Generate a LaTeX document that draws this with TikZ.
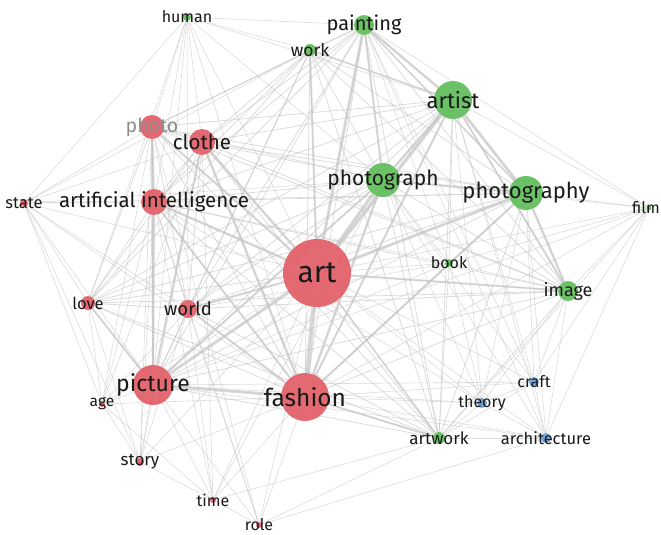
\documentclass[tikz,border=0pt]{standalone}
\usepackage{fontspec}
\setmainfont{Fira Sans}
\definecolor{kwred}{RGB}{226,98,106}
\definecolor{kwgreen}{RGB}{100,190,94}
\definecolor{kwblue}{RGB}{104,156,214}
\definecolor{linkgray}{RGB}{196,196,196}
\definecolor{lbltext}{RGB}{25,25,25}
\definecolor{lblfaint}{RGB}{140,140,140}
\pgfdeclarelayer{bg}
\pgfsetlayers{bg,main}

\begin{document}
\begin{tikzpicture}[x=1pt,y=-1pt]
		\tikzset{kw/.style = {shape=circle,draw=none,inner sep=0pt,minimum size=#1}}
		\tikzset{kwr/.style = {kw=#1,fill=kwred,fill opacity=0.95}}
		\tikzset{kwg/.style = {kw=#1,fill=kwgreen,fill opacity=0.95}}
		\tikzset{kwb/.style = {kw=#1,fill=kwblue,fill opacity=0.95}}
		\tikzset{lbl/.style = {inner sep=0pt,text=lbltext,font=\fontsize{#1}{#1}\selectfont}}
		\tikzset{link/.style = {draw=linkgray,line width=#1,opacity=0.6}}
		\useasboundingbox (0,0) rectangle (661,535);
		% cluster 1 (red)
		\node[kwr=68, label={[lbl=30]center:art}] (art) at (317,273) {};
		\node[kwr=48, label={[lbl=24.5]center:fashion}] (fashion) at (305,397) {};
		\node[kwr=40, label={[lbl=23]center:picture}] (picture) at (153,385) {};
		\node[kwr=26, label={[lbl=20.5]center:artificial intelligence}] (ai) at (154,202) {};
		\node[kwr=26, label={[lbl=20.5]center:clothe}] (clothe) at (202,142) {};
		\node[kwr=24, label={[lbl=19.5,text=lblfaint]center:photo}] (photo) at (152,127) {};
		\node[kwr=18, label={[lbl=18.5]center:world}] (world) at (188,309) {};
		\node[kwr=14, label={[lbl=16.5]center:love}] (love) at (88,303) {};
		\node[kwr=8, label={[lbl=16.5]center:state}] (state) at (24,203) {};
		\node[kwr=6, label={[lbl=15.5]center:age}] (age) at (102,404) {};
		\node[kwr=8, label={[lbl=17]center:story}] (story) at (140,462) {};
		\node[kwr=6, label={[lbl=16]center:time}] (time) at (213,500) {};
		\node[kwr=6, label={[lbl=16]center:role}] (role) at (259,525) {};
		% cluster 2 (green)
		\node[kwg=38, label={[lbl=22]center:artist}] (artist) at (453,100) {};
		\node[kwg=34, label={[lbl=21]center:photograph}] (phgraph) at (383,180) {};
		\node[kwg=34, label={[lbl=22]center:photography}] (phgraphy) at (526,193) {};
		\node[kwg=20, label={[lbl=20]center:painting}] (paint) at (364,25) {};
		\node[kwg=12, label={[lbl=17.5]center:work}] (work) at (310,50) {};
		\node[kwg=20, label={[lbl=18]center:image}] (image) at (568,291) {};
		\node[kwg=12, label={[lbl=17]center:artwork}] (artwork) at (439,438) {};
		\node[kwg=8, label={[lbl=16]center:human}] (human) at (187,17) {};
		\node[kwg=8, label={[lbl=16]center:book}] (book) at (449,263) {};
		\node[kwg=5] (film) at (649,208) {};
		\node[lbl=16, anchor=east] (filmlbl) at (660,208) {film};
		% cluster 3 (blue)
		\node[kwb=10, label={[lbl=16]center:craft}] (craft) at (534,382) {};
		\node[kwb=10, label={[lbl=16]center:theory}] (theory) at (482,403) {};
		\node[kwb=10, label={[lbl=16.5]center:architecture}] (arch) at (546,438) {};
		
		%links
		\begin{pgfonlayer}{bg}
		\foreach \a [count=\i] in {art,fashion,picture,artist,phgraph,phgraphy,paint,ai,clothe,photo,world,image,work,love,artwork}{
			\foreach \b [count=\j] in {art,fashion,picture,artist,phgraph,phgraphy,paint,ai,clothe,photo,world,image,work,love,artwork}{
				\ifnum\j>\i \draw[link=0.8] (\a) -- (\b); \fi
			}
		}
		\foreach \a/\b in {human/work,human/paint,human/photo,human/clothe,human/ai,human/state,human/art,human/world,human/picture,human/fashion,human/phgraph,human/artist,human/love,
			state/photo,state/clothe,state/ai,state/art,state/love,state/picture,state/age,state/story,state/world,state/fashion,state/work,state/phgraph,state/phgraphy,
			film/artist,film/phgraphy,film/image,film/art,film/phgraph,film/book,film/fashion,film/artwork,film/arch,film/craft,film/paint,film/picture,
			book/art,book/fashion,book/phgraph,book/phgraphy,book/artist,book/picture,book/image,book/artwork,book/paint,book/ai,book/theory,book/world,
			age/picture,age/love,age/art,age/fashion,age/story,age/ai,age/clothe,age/photo,age/world,age/time,
			story/picture,story/fashion,story/art,story/ai,story/clothe,story/love,story/time,story/world,story/photo,
			time/picture,time/fashion,time/art,time/ai,time/clothe,time/world,time/role,time/artwork,time/phgraph,
			role/picture,role/fashion,role/art,role/ai,role/artwork,role/photo,role/world,role/arch,
			craft/image,craft/theory,craft/art,craft/fashion,craft/phgraphy,craft/artist,craft/picture,craft/arch,craft/artwork,craft/phgraph,craft/paint,
			theory/art,theory/fashion,theory/artwork,theory/image,theory/phgraph,theory/phgraphy,theory/picture,theory/arch,theory/artist,theory/ai,
			arch/image,arch/artwork,arch/fashion,arch/art,arch/phgraphy,arch/artist,arch/picture,arch/phgraph,arch/paint}
			\draw[link=0.6] (\a) -- (\b);
		\foreach \a/\b/\w in {art/fashion/5,art/picture/3,art/artist/3.5,art/phgraph/3.5,art/phgraphy/3,artist/phgraphy/3,artist/phgraph/2.5,
			paint/artist/2.5,paint/art/3,paint/phgraph/2,work/art/2,photo/art/2,clothe/fashion/2.5,clothe/art/2.5,ai/art/2.5,
			picture/fashion/3,world/art/2,world/fashion/2,picture/ai/2,phgraph/phgraphy/2,phgraphy/image/2.5,art/image/2,
			fashion/phgraph/2.5,fashion/artist/2,fashion/phgraphy/2,love/picture/2,photo/ai/2,photo/picture/2,clothe/picture/2,
			fashion/artwork/2,art/artwork/1.5,paint/phgraphy/1.5,work/artist/1.5,artist/image/2,picture/phgraph/2,ai/fashion/2}
			\draw[link=\w] (\a) -- (\b);
		\end{pgfonlayer}
\end{tikzpicture}
\end{document}
